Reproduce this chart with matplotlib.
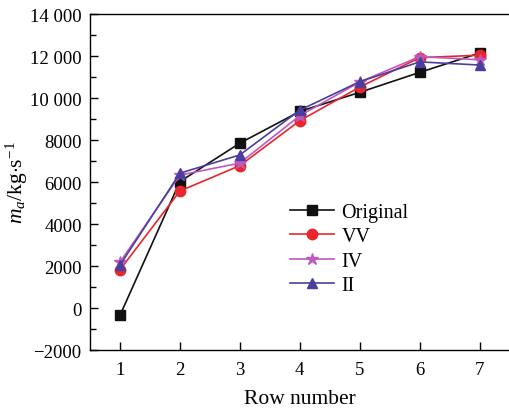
import matplotlib
matplotlib.use("Agg")
import matplotlib.pyplot as plt
from matplotlib.ticker import MultipleLocator, FuncFormatter

rows = [1, 2, 3, 4, 5, 6, 7]
original = [-350, 6020, 7850, 9360, 10270, 11220, 12140]
vv = [1820, 5570, 6780, 8920, 10520, 11920, 12040]
iv = [2180, 6330, 6900, 9160, 10760, 11970, 11820]
ii = [2040, 6420, 7290, 9420, 10780, 11720, 11570]
labels = ["Original", "VV", "IV", "II"]
yticks = [-2000, 0, 2000, 4000, 6000, 8000, 10000, 12000, 14000]

plt.rcParams['font.family'] = ['Liberation Serif', 'DejaVu Serif']
plt.rcParams['mathtext.fontset'] = 'custom'
plt.rcParams['mathtext.rm'] = 'Liberation Serif'
plt.rcParams['mathtext.it'] = 'Liberation Serif:italic'

fig = plt.figure(figsize=(5.09, 4.10), dpi=100)
ax = fig.add_axes([0.1768, 0.1439, 0.8232, 0.8195])

styles = [
    dict(color='#111111', marker='s', ms=6.5),
    dict(color='#e8262c', marker='o', ms=7.5),
    dict(color='#c058c0', marker='*', ms=9),
    dict(color='#4a3f9c', marker='^', ms=7.5),
]
for data, lab, st in zip([original, vv, iv, ii], labels, styles):
    ax.plot(rows, data, label=lab, lw=1.2, **st)

ax.set_xlim(0.5, 7.49)
ax.set_ylim(-2000, 14000)
ax.set_xticks(rows)
ax.set_yticks(yticks)
ax.yaxis.set_minor_locator(MultipleLocator(1000))

def fmt(v, pos):
    v = int(round(v))
    if abs(v) >= 10000:
        s = f"{abs(v):,}".replace(",", " ")
    else:
        s = str(abs(v))
    return ("\u2212" if v < 0 else "") + s
ax.yaxis.set_major_formatter(FuncFormatter(fmt))

ax.spines['right'].set_visible(False)
for s in ['left', 'bottom', 'top']:
    ax.spines[s].set_linewidth(1.0)
ax.tick_params(axis='both', which='major', direction='in', length=6, width=1, labelsize=13.5)
ax.tick_params(axis='y', which='minor', direction='in', length=4, width=1)
ax.tick_params(axis='x', which='minor', bottom=False)
ax.tick_params(axis='x', pad=8)
ax.tick_params(axis='y', pad=6)

ax.set_xlabel('Row number', fontsize=15.5, labelpad=8)
ax.set_ylabel(r'$m_{a}$/kg$\cdot$s$^{-1}$', fontsize=15.5, labelpad=0)

leg = ax.legend(loc='upper left', bbox_to_anchor=(0.458, 0.462), frameon=False,
                fontsize=14.5, handlelength=2.2, handletextpad=0.35, labelspacing=0.26,
                borderaxespad=0)

fig.savefig('out.png', dpi=100)
